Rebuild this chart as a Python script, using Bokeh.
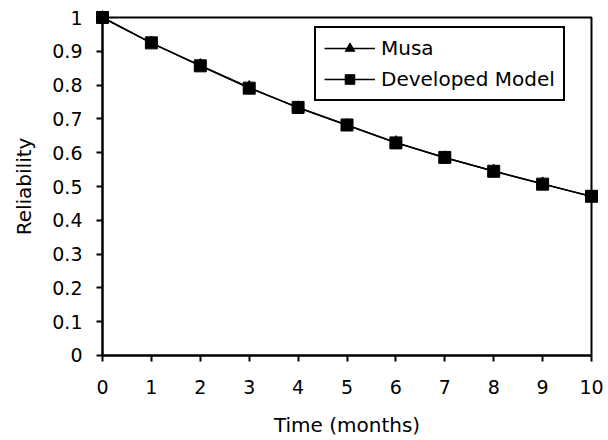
from bokeh.plotting import figure
from bokeh.models import Range1d, Legend, LegendItem, FixedTicker, BoxAnnotation, LinearAxis
from bokeh.embed import file_html
from bokeh.resources import INLINE

months = [0, 1, 2, 3, 4, 5, 6, 7, 8, 9, 10]
musa = [1.0, 0.924, 0.858, 0.793, 0.733, 0.681, 0.630, 0.585, 0.546, 0.508, 0.470]
developed = [1.0, 0.925, 0.857, 0.791, 0.734, 0.682, 0.629, 0.586, 0.545, 0.507, 0.471]
y_ticks = [0, 0.1, 0.2, 0.3, 0.4, 0.5, 0.6, 0.7, 0.8, 0.9, 1]

FONT = "DejaVu Sans"
PADX = 0.2045   # small padding so end markers are not clipped
PADY = 0.0296

p = figure(frame_width=509, frame_height=358, output_backend="svg", toolbar_location=None,
           x_range=Range1d(months[0] - PADX, months[-1] + PADX),
           y_range=Range1d(0 - PADY, 1 + PADY),
           min_border_left=92, min_border_right=4, min_border_top=7, min_border_bottom=73)

p.xgrid.visible = False
p.ygrid.visible = False
p.outline_line_color = None
p.background_fill_color = "white"
p.border_fill_color = "white"

# label-only axes at the frame edges
for ax in (p.xaxis[0], p.yaxis[0]):
    ax.axis_line_color = None
    ax.major_tick_line_color = None
    ax.major_tick_out = 0
    ax.major_tick_in = 0
    ax.minor_tick_line_color = None
    ax.major_label_text_font = FONT
    ax.major_label_text_font_size = "19px"
    ax.major_label_text_color = "black"
    ax.axis_label_text_font = FONT
    ax.axis_label_text_font_size = "20px"
    ax.axis_label_text_font_style = "normal"
    ax.axis_label_text_color = "black"

p.xaxis.ticker = FixedTicker(ticks=months)
p.yaxis.ticker = FixedTicker(ticks=y_ticks)
p.yaxis.major_label_overrides = {0: "0", 1: "1"}
p.xaxis.axis_label = "Time (months)"
p.yaxis.axis_label = "Reliability"
p.xaxis.major_label_standoff = 14
p.yaxis.major_label_standoff = 10
p.xaxis.axis_label_standoff = 16
p.yaxis.axis_label_standoff = 13

# line + tick axes anchored at the data zero
def line_axis(ticks, bounds):
    a = LinearAxis(ticker=FixedTicker(ticks=ticks), fixed_location=0, bounds=bounds)
    a.axis_line_color = "black"
    a.axis_line_width = 2
    a.major_tick_line_color = "black"
    a.major_tick_line_width = 2
    a.major_tick_out = 6
    a.major_tick_in = 0
    a.minor_tick_line_color = None
    a.major_label_text_font_size = "0px"
    a.major_label_text_color = None
    a.major_label_standoff = 0
    return a

p.add_layout(line_axis(months, (0, 10)), "below")
p.add_layout(line_axis(y_ticks, (0, 1)), "left")

frame_box = BoxAnnotation(left=0, right=10, bottom=0, top=1, fill_color=None, fill_alpha=0,
                          line_color="black", line_alpha=1, line_width=2, level="underlay")
p.add_layout(frame_box)

l1 = p.line(months, musa, line_color="black", line_width=1.5)
m1 = p.scatter(months, musa, marker="triangle", size=12, fill_color="black", line_color="black")
l2 = p.line(months, developed, line_color="black", line_width=1.5)
m2 = p.scatter(months, developed, marker="square", size=12, fill_color="black", line_color="black")

legend = Legend(items=[LegendItem(label="Musa", renderers=[l1, m1]),
                       LegendItem(label="Developed Model", renderers=[l2, m2])],
                location=(222, 264))
legend.border_line_color = "black"
legend.border_line_alpha = 1
legend.border_line_width = 2
legend.background_fill_alpha = 1
legend.label_text_font = FONT
legend.label_text_font_size = "20px"
legend.label_text_color = "black"
legend.glyph_width = 51
legend.glyph_height = 24
legend.spacing = 7
legend.padding = 8
legend.margin = 0
legend.label_standoff = 6
p.add_layout(legend)

open("out.html", "w").write(file_html(p, INLINE))
